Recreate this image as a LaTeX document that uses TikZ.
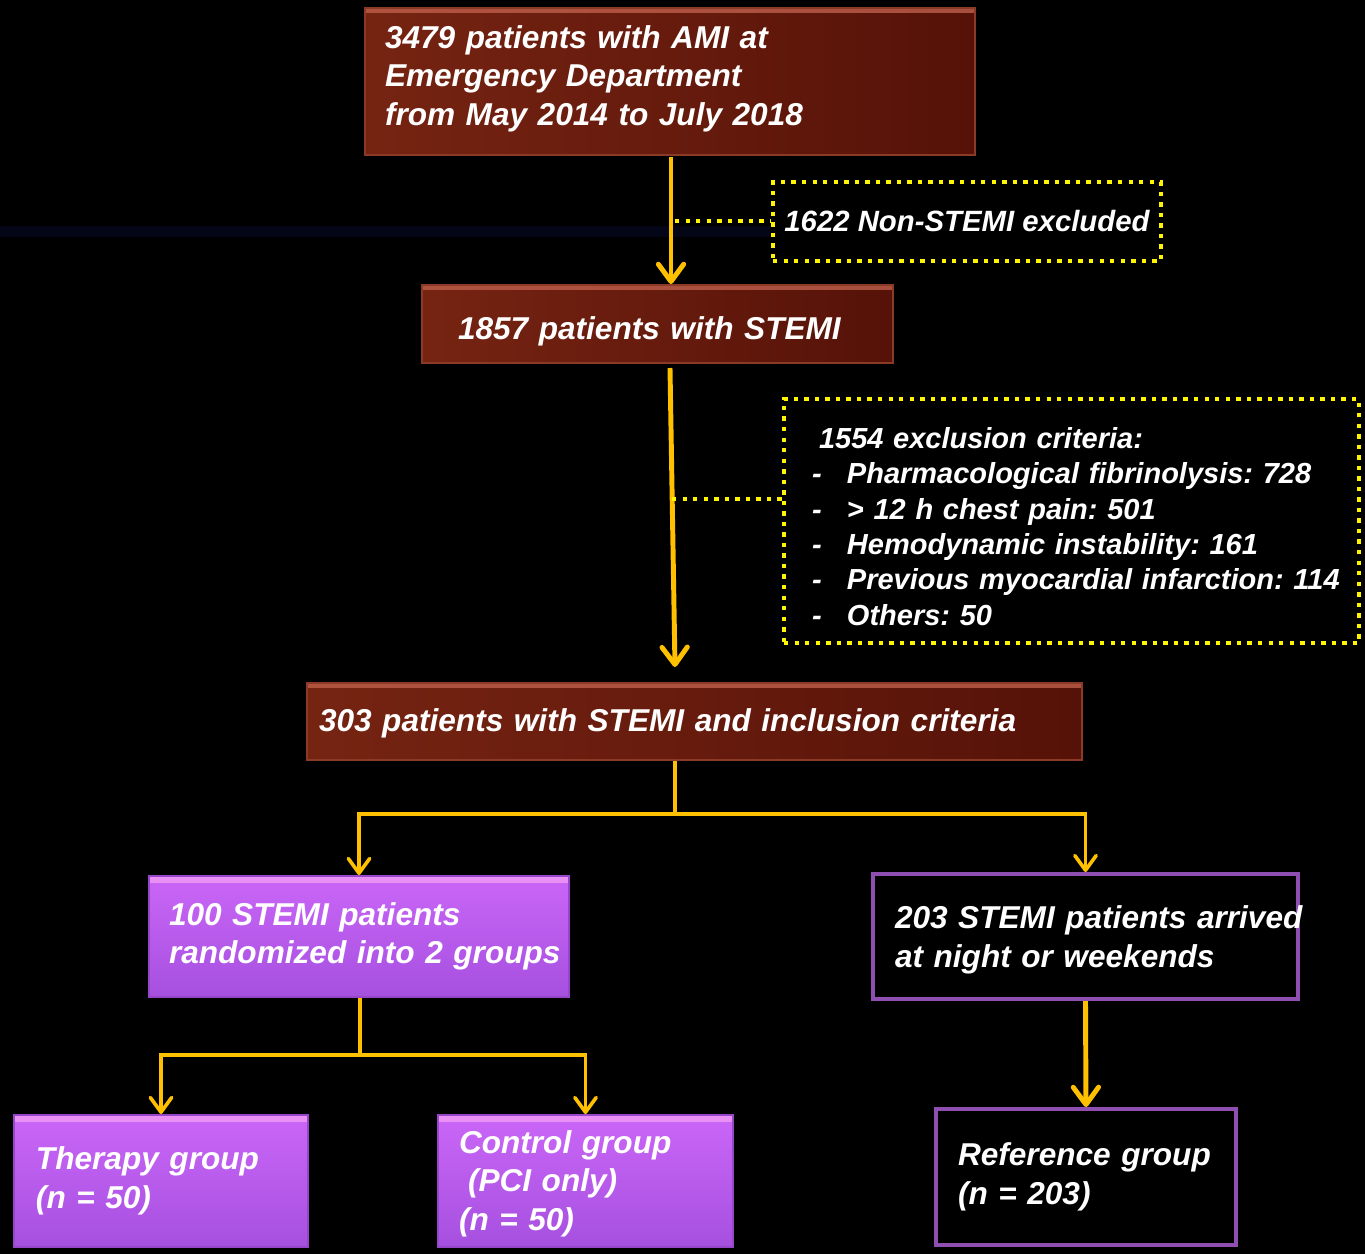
\documentclass[tikz,border=0pt]{standalone}
\usepackage{fontspec}
\setmainfont{Liberation Sans}
\usetikzlibrary{arrows.meta}
\definecolor{bgnavy}{RGB}{5,5,24}
\definecolor{redA}{RGB}{118,36,18}
\definecolor{redB}{RGB}{86,18,8}
\definecolor{redEdge}{RGB}{140,58,40}
\definecolor{redHi}{RGB}{190,95,75}
\definecolor{purA}{RGB}{202,102,247}
\definecolor{purB}{RGB}{166,80,224}
\definecolor{purEdge}{RGB}{150,70,200}
\definecolor{purHi}{RGB}{242,155,245}
\definecolor{purLine}{RGB}{142,79,176}
\definecolor{arrowc}{RGB}{255,192,0}
\definecolor{dotc}{RGB}{255,245,0}
\frenchspacing
\tikzset{
  bigfont/.style={font=\fontsize{23.7pt}{28.9pt}\selectfont\bfseries\itshape\frenchspacing},
  listfont/.style={font=\fontsize{21.75pt}{26.5pt}\selectfont\bfseries\itshape\frenchspacing},
  redbox/.style={rectangle, draw=redEdge, line width=1.5pt, left color=redA, right color=redB,
    text=white, align=left, bigfont,
    path picture={\fill[redHi,opacity=0.8] (path picture bounding box.north west) rectangle ([yshift=-4pt]path picture bounding box.north east);}},
  purbox/.style={rectangle, draw=purEdge, line width=1.5pt, top color=purA, bottom color=purB,
    text=white, align=left, bigfont,
    path picture={\fill[purHi,opacity=0.8] (path picture bounding box.north west) rectangle ([yshift=-5pt]path picture bounding box.north east);}},
  blkbox/.style={rectangle, draw=purLine, line width=3pt, fill=black, text=white, align=left, bigfont},
  dotbox/.style={rectangle, draw=dotc, line width=3.3pt, dash pattern=on 3.3pt off 4.6pt, text=white},
  conn/.style={draw=arrowc, line width=2.7pt},
  arr/.style={conn, -{Straight Barb[round,length=11pt,width=16pt]}},
  bigarr/.style={draw=arrowc, line width=3.7pt, -{Straight Barb[round,length=13pt,width=19pt]}},
  dotline/.style={draw=dotc, line width=3.3pt, dash pattern=on 3.3pt off 4.6pt},
}
\begin{document}
\begin{tikzpicture}[x=0.75pt,y=-0.75pt]
\fill[black] (0,0) rectangle (1365,1254);
\useasboundingbox (0,0) rectangle (1365,1254);
\fill[bgnavy] (0,226) rectangle (770,237);

\node[redbox, minimum width=457.5pt, minimum height=110.25pt, inner xsep=15pt, text width=427.5pt, text depth=67.3pt] (n1) at (670,81.5)
  {\mbox{3479 patients with AMI at}\\\mbox{Emergency Department}\\\mbox{from May 2014 to July 2018}};
\node[redbox, minimum width=353.25pt, minimum height=58.5pt, inner xsep=27pt, text width=299.25pt, text height=23pt, text depth=0pt] (n2) at (657.5,324)
  {\mbox{1857 patients with STEMI}};
\node[redbox, minimum width=581.25pt, minimum height=57.75pt, inner xsep=9pt, text width=563.25pt, text height=17.5pt, text depth=2pt] (n3) at (694.5,721.5)
  {\mbox{303 patients with STEMI and inclusion criteria}};
\node[purbox, minimum width=315pt, minimum height=90.75pt, inner xsep=15pt, text width=285pt] (n4) at (359,936.5)
  {\mbox{100 STEMI patients}\\\mbox{randomized into 2 groups}};
\node[blkbox, minimum width=318.75pt, minimum height=93.75pt, inner xsep=16.5pt, text width=285.75pt, text depth=28.7pt] (n5) at (1085.5,936.5)
  {\mbox{203 STEMI patients arrived}\\\mbox{at night or weekends}};
\node[purbox, minimum width=220.5pt, minimum height=99pt, inner xsep=16.5pt, text width=187.5pt] (n6) at (161,1181)
  {\mbox{Therapy group}\\\mbox{(n = 50)}};
\node[purbox, minimum width=221.25pt, minimum height=99pt, inner xsep=15.75pt, text width=189.75pt, text depth=59pt] (n7) at (585.5,1181)
  {\mbox{Control group}\\\mbox{\hspace*{6.75pt}(PCI only)}\\\mbox{(n = 50)}};
\node[blkbox, minimum width=225pt, minimum height=102pt, inner xsep=16.5pt, text width=192pt] (n8) at (1086,1177)
  {\mbox{Reference group}\\\mbox{(n = 203)}};
\node[dotbox, minimum width=291pt, minimum height=59.25pt, font=\fontsize{22pt}{26pt}\selectfont\bfseries\itshape] (n9) at (967,221.5)
  {1622 Non-STEMI excluded};
\node[dotbox, listfont, align=left, minimum width=431.25pt, minimum height=183pt, inner xsep=16.5pt, text width=398.25pt, text height=24pt] (n10) at (1071.5,521)
  {\mbox{\hspace*{9.75pt}1554 exclusion criteria:}\\
   \mbox{\makebox[30.75pt][l]{\hspace*{4.5pt}-}Pharmacological fibrinolysis: 728}\\
   \mbox{\makebox[30.75pt][l]{\hspace*{4.5pt}-}> 12 h chest pain: 501}\\
   \mbox{\makebox[30.75pt][l]{\hspace*{4.5pt}-}Hemodynamic instability: 161}\\
   \mbox{\makebox[30.75pt][l]{\hspace*{4.5pt}-}Previous myocardial infarction: 114}\\
   \mbox{\makebox[30.75pt][l]{\hspace*{4.5pt}-}Others: 50}};

% connectors
\coordinate (a1s) at (671,157);
\draw[bigarr] (a1s) -- (a1s |- n2.north);
\coordinate (d1) at (675,221);
\draw[dotline] (d1) -- (d1 -| n9.west);
\coordinate (a2s) at (670,368);
\coordinate (a2e) at (675,667);
\draw[bigarr] (a2s) -- (a2e);
\coordinate (d2) at (672,499);
\draw[dotline] (d2) -- (d2 -| n10.west);
\coordinate (f1) at (675,814);
\draw[conn] (f1 |- n3.south) -- (f1);
\draw[arr] (f1) -| (n4.north);
\draw[arr] (f1) -| (n5.north);
\coordinate (f2) at (360,1055);
\draw[conn] (f2 |- n4.south) -- (f2);
\draw[arr] (f2) -| (n6.north);
\draw[arr] (f2) -| (n7.north);
\draw[bigarr] (n5.south) -- (n8.north);
\end{tikzpicture}
\end{document}
